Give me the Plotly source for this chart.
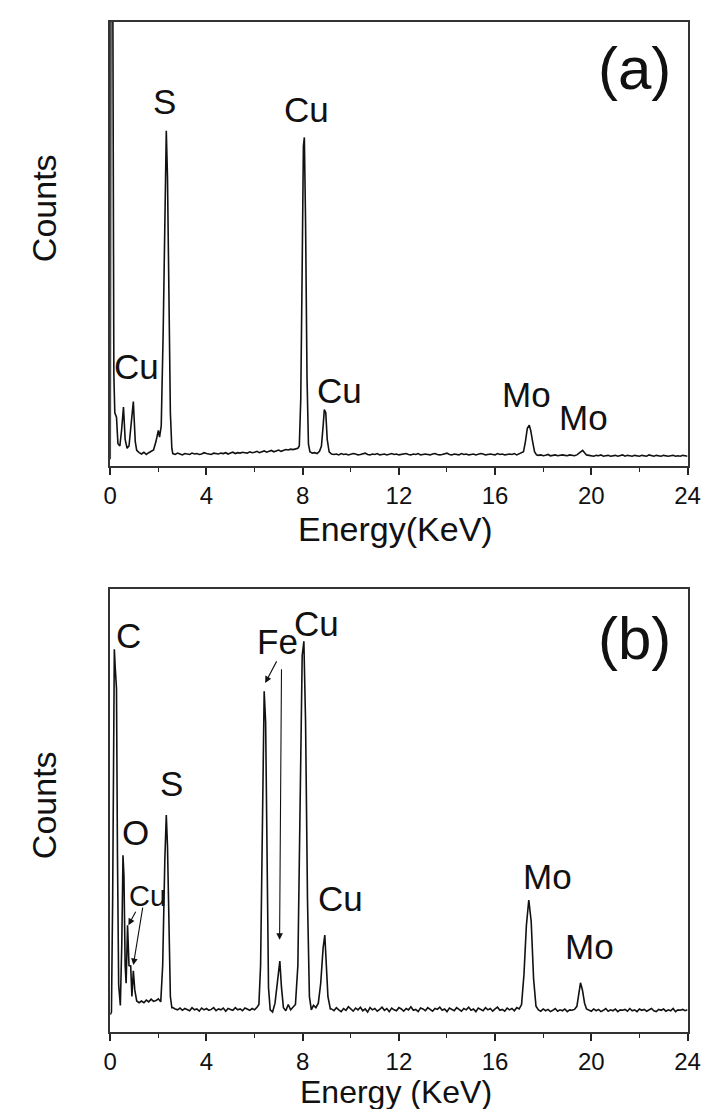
import plotly.graph_objects as go

# ---------------- Panel (a) data: energy (keV) / counts (a.u.) ----------------
a_low_E = [0.00, 0.03, 0.10, 0.15, 0.19, 0.26, 0.32, 0.40, 0.47, 0.55, 0.62, 0.70, 0.78, 0.88, 0.96,
           1.04, 1.10, 1.20, 1.30, 1.40, 1.50, 1.60, 1.70, 1.80, 1.90, 2.00, 2.05, 2.12, 2.20, 2.27,
           2.33, 2.38, 2.44, 2.50, 2.56]
a_low_C = [15, 1200, 1200, 205, 120, 110, 50, 45, 80, 133, 60, 40, 45, 100, 145,
           55, 35, 30, 27, 31, 26, 30, 33, 36, 55, 80, 65, 90, 300, 620,
           755, 650, 380, 120, 40]
a_base1_C = [28, 26, 29, 27, 25, 28, 27, 26, 29, 27, 28, 26, 27, 30, 28, 27, 26, 29, 28, 27,
             29, 28, 30, 27, 29, 31, 28, 30, 29, 31, 30, 29, 32, 30, 31, 33, 30, 32, 34, 31,
             33, 35, 32, 34, 36, 33, 35, 37, 36, 38, 37, 39, 40]          # 2.6 .. 7.8
a_cu_E = [7.86, 7.92, 7.98, 8.03, 8.07, 8.12, 8.18, 8.24, 8.30, 8.40, 8.50, 8.60, 8.70, 8.78,
          8.85, 8.90, 8.96, 9.02, 9.10, 9.20]
a_cu_C = [45, 150, 450, 720, 740, 550, 200, 50, 32, 29, 30, 28, 33, 45, 90, 127, 120, 60, 32, 27]
a_base2_C = [26, 27, 25, 28, 26, 27, 25, 26, 28, 27, 25, 26, 27, 29, 26, 25, 27, 26, 28, 25,
             26, 27, 25, 26, 28, 26, 27, 25, 26, 27, 28, 26, 25, 27, 26, 28, 25, 26, 27, 26,
             25, 27, 28, 26, 25, 26, 27, 29, 26, 25, 27, 26, 25, 28, 26, 27, 25, 26, 27, 25,
             26, 28, 27, 25, 26, 27, 26, 25, 28, 26, 27, 25, 26, 27, 26, 28, 25, 27, 29]  # 9.3 .. 17.1
a_mo1_E = [17.18, 17.26, 17.34, 17.42, 17.48, 17.56, 17.64, 17.72]
a_mo1_C = [32, 55, 85, 92, 80, 55, 32, 25]
a_base3_C = [24, 25, 23, 24, 26, 23, 24, 25, 23, 24, 25, 24, 23, 25, 24, 23, 25]  # 17.8 .. 19.4
a_mo2_E = [19.48, 19.56, 19.64, 19.72, 19.80]
a_mo2_C = [28, 33, 35, 30, 25]
a_base4_C = [24, 23, 22, 24, 23, 25, 22, 23, 24, 22, 23, 24, 22, 23, 25, 22, 24, 23, 22, 24,
             23, 22, 24, 23, 22, 25, 23, 22, 24, 23, 22, 24, 23, 22, 23, 24, 22, 23, 22, 24,
             23, 22]  # 19.9 .. 24.0

# ---------------- Panel (b) data ----------------
b_low_E = [0.00, 0.05, 0.10, 0.14, 0.17, 0.21, 0.26, 0.30, 0.35, 0.42, 0.48, 0.53, 0.57, 0.62,
           0.66, 0.72, 0.78, 0.85, 0.90, 0.96, 1.02, 1.10, 1.20]
b_low_C = [39, 45, 300, 700, 864, 820, 776, 400, 107, 60, 200, 399, 352, 150,
           110, 241, 150, 149, 80, 138, 95, 70, 66]
b_base0_C = [70, 66, 72, 68, 74, 69, 71, 75, 68]  # 1.3 .. 2.1
b_s_E = [2.18, 2.27, 2.33, 2.38, 2.44, 2.50, 2.56]
b_s_C = [150, 390, 490, 420, 200, 80, 55]
b_base1_C = [55, 52, 50, 54, 49, 53, 51, 48, 55, 50, 52, 47, 54, 50, 53, 49, 51, 55, 48, 52,
             50, 54, 47, 53, 51, 49, 55, 50, 52, 48, 54, 51, 49, 53, 50, 56]  # 2.6 .. 6.1
b_fecu_E = [6.18, 6.25, 6.32, 6.40, 6.46, 6.52, 6.58, 6.65, 6.75, 6.85, 6.95, 7.05, 7.12, 7.20,
            7.30, 7.40, 7.50, 7.60, 7.70, 7.80, 7.90, 7.98, 8.05, 8.12, 8.20, 8.28, 8.36, 8.45,
            8.55, 8.65, 8.75, 8.85, 8.92, 8.98, 9.05, 9.15]
b_fecu_C = [62, 150, 450, 769, 700, 300, 100, 50, 45, 65, 120, 160, 100, 55,
            48, 62, 50, 56, 62, 150, 500, 850, 882, 700, 300, 80, 50, 60,
            55, 65, 110, 190, 219, 160, 80, 52]
b_base2_C = [52, 48, 55, 50, 46, 53, 49, 57, 51, 47, 54, 50, 56, 48, 52, 45, 55, 50, 53, 47,
             51, 56, 49, 53, 46, 54, 50, 48, 55, 52, 47, 53, 50, 57, 49, 51, 46, 54, 52, 48,
             55, 50, 47, 53, 51, 56, 49, 52, 46, 54, 50, 48, 55, 51, 47, 53, 50, 56, 49, 52,
             46, 54, 51, 48, 55, 50, 53, 47, 52, 56, 49, 51, 47, 54, 50, 53, 48, 55, 52]  # 9.2 .. 17.0
b_mo1_E = [17.1, 17.2, 17.3, 17.4, 17.5, 17.6, 17.7]
b_mo1_C = [62, 130, 240, 298, 250, 120, 58]
b_base3_C = [50, 47, 52, 48, 51, 46, 49, 53, 47, 50, 48, 52, 46, 50, 49, 51]  # 17.8 .. 19.3
b_mo2_E = [19.40, 19.47, 19.55, 19.63, 19.72, 19.80]
b_mo2_C = [58, 85, 111, 95, 65, 52]
b_base4_C = [50, 47, 52, 48, 51, 46, 49, 53, 47, 50, 48, 52, 46, 50, 49, 51, 47, 53, 48, 50,
             46, 52, 49, 51, 47, 50, 53, 48, 46, 51, 49, 52, 47, 50, 48, 53, 46, 50, 49, 51,
             48, 50]  # 19.9 .. 24.0

x_ticks = [0, 4, 8, 12, 16, 20, 24]


def channels(start, vals, step=0.1):
    return [round(start + i * step, 3) for i in range(len(vals))]


aE = (a_low_E + channels(2.6, a_base1_C) + a_cu_E + channels(9.3, a_base2_C) + a_mo1_E
      + channels(17.8, a_base3_C) + a_mo2_E + channels(19.9, a_base4_C))
aC = a_low_C + a_base1_C + a_cu_C + a_base2_C + a_mo1_C + a_base3_C + a_mo2_C + a_base4_C

bE = (b_low_E + channels(1.3, b_base0_C) + b_s_E + channels(2.6, b_base1_C) + b_fecu_E
      + channels(9.2, b_base2_C) + b_mo1_E + channels(17.8, b_base3_C) + b_mo2_E
      + channels(19.9, b_base4_C))
bC = (b_low_C + b_base0_C + b_s_C + b_base1_C + b_fecu_C + b_base2_C + b_mo1_C + b_base3_C
      + b_mo2_C + b_base4_C)

W, H = 711, 1109
FONT = "Liberation Sans, Arial, sans-serif"
TICKFONT = "Liberation Sans Narrow, Arial Narrow, Liberation Sans, Arial, sans-serif"

fig = go.Figure()
fig.add_trace(go.Scatter(x=aE, y=aC, mode="lines", line=dict(color="#111", width=1.6),
                         xaxis="x", yaxis="y", showlegend=False, hoverinfo="skip"))
fig.add_trace(go.Scatter(x=bE, y=bC, mode="lines", line=dict(color="#111", width=1.6),
                         xaxis="x2", yaxis="y2", showlegend=False, hoverinfo="skip"))


def px_x(p):
    return p / W


def px_y(p):
    return 1 - p / H


xdom = [px_x(98), px_x(692)]
xcommon = dict(range=[0, 24], tickvals=x_ticks, ticktext=[str(t) for t in x_ticks],
               ticks="outside", ticklen=7, tickwidth=1.5, tickcolor="#222",
               minor=dict(dtick=2, ticks="outside", ticklen=4, tickwidth=1.2, tickcolor="#222"),
               showline=True, linecolor="#333", linewidth=1.5, mirror=True,
               showgrid=False, zeroline=False,
               tickfont=dict(family=TICKFONT, size=24, color="#111"), domain=xdom)
ycommon = dict(range=[0, 1000], showticklabels=False, ticks="", showline=True,
               linecolor="#333", linewidth=1.5, mirror=True, showgrid=False, zeroline=False)

fig.update_layout(
    width=W, height=H, margin=dict(l=0, r=0, t=0, b=0),
    paper_bgcolor="white", plot_bgcolor="white",
    xaxis=dict(**xcommon, anchor="y"),
    yaxis=dict(**ycommon, domain=[px_y(458), px_y(14)], anchor="x"),
    xaxis2=dict(**xcommon, anchor="y2"),
    yaxis2=dict(**ycommon, domain=[px_y(1024), px_y(581)], anchor="x2"),
)

anns = []


def lab(text, x, y, xr, yr, size=35, xanchor="center"):
    anns.append(dict(text=text, x=x, y=y, xref=xr, yref=yr, showarrow=False,
                     xanchor=xanchor, yanchor="middle",
                     font=dict(family=FONT, size=size, color="#111")))


# panel (a) peak labels
lab("S", 2.26, 822, "x", "y")
lab("Cu", 1.09, 225, "x", "y")
lab("Cu", 8.16, 802, "x", "y")
lab("Cu", 9.54, 169, "x", "y")
lab("Mo", 17.29, 160, "x", "y")
lab("Mo", 19.68, 110, "x", "y")
lab("(a)", 23.4, 896, "x", "y", size=60, xanchor="right")

# panel (b) peak labels
lab("C", 0.77, 896, "x2", "y2")
lab("O", 1.05, 451, "x2", "y2")
lab("Cu", 1.54, 307, "x2", "y2", size=29)
lab("S", 2.55, 562, "x2", "y2")
lab("Fe", 6.95, 882, "x2", "y2")
lab("Cu", 8.57, 923, "x2", "y2")
lab("Cu", 9.58, 302, "x2", "y2")
lab("Mo", 18.18, 352, "x2", "y2")
lab("Mo", 19.92, 192, "x2", "y2")
lab("(b)", 23.4, 889, "x2", "y2", size=60, xanchor="right")

# arrows in panel (b)
for (hx, hy, tx, ty) in [(0.755, 241, 1.09, 275), (0.96, 151, 1.36, 284),
                         (6.44, 788, 6.95, 840), (7.04, 208, 7.12, 822)]:
    anns.append(dict(x=hx, y=hy, ax=tx, ay=ty, xref="x2", yref="y2", axref="x2", ayref="y2",
                     showarrow=True, arrowhead=2, arrowsize=1.2, arrowwidth=1.1,
                     arrowcolor="#111", text=""))

# axis titles
for yc in (200, 797):
    anns.append(dict(text="Counts", x=px_x(30), y=px_y(yc), xref="paper", yref="paper",
                     xanchor="center", yanchor="middle",
                     showarrow=False, textangle=-90,
                     font=dict(family=FONT, size=34, color="#111")))
anns.append(dict(text="Energy(KeV)", x=px_x(392), y=px_y(521), xref="paper", yref="paper",
                 xanchor="center", yanchor="middle",
                 showarrow=False, font=dict(family=FONT, size=34, color="#111")))
anns.append(dict(text="Energy (KeV)", x=px_x(392), y=px_y(1084), xref="paper", yref="paper",
                 xanchor="center", yanchor="middle",
                 showarrow=False, font=dict(family=FONT, size=32, color="#111")))

fig.update_layout(annotations=anns)
fig.write_html("out.html")
